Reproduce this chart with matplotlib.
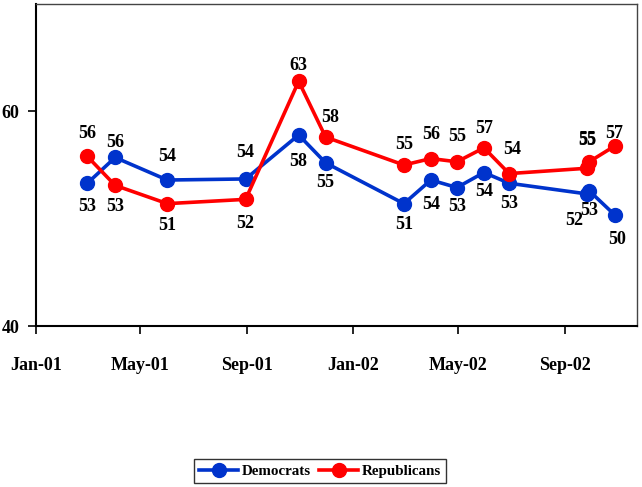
import datetime as dt
import matplotlib
matplotlib.use('Agg')
import matplotlib.pyplot as plt
import matplotlib.dates as mdates

plt.rcParams['font.family'] = ['Liberation Serif', 'DejaVu Serif']
plt.rcParams['font.weight'] = 'bold'

# survey dates
dates = [dt.date(2001, 3, 1), dt.date(2001, 4, 2), dt.date(2001, 6, 1),
         dt.date(2001, 8, 30), dt.date(2001, 10, 30), dt.date(2001, 11, 30),
         dt.date(2002, 2, 28), dt.date(2002, 3, 31), dt.date(2002, 4, 30),
         dt.date(2002, 5, 31), dt.date(2002, 6, 29), dt.date(2002, 9, 27),
         dt.date(2002, 9, 29), dt.date(2002, 10, 29)]

dem = [53.3, 55.7, 53.6, 53.7, 57.8, 55.2, 51.4, 53.6, 52.9, 54.3, 53.3, 52.3, 52.6, 50.3]
rep = [55.8, 53.1, 51.4, 51.8, 62.8, 57.6, 55.0, 55.6, 55.3, 56.6, 54.2, 54.7, 55.3, 56.8]

tick_dates = [dt.date(2001, 1, 1), dt.date(2001, 5, 1), dt.date(2001, 9, 1),
              dt.date(2002, 1, 1), dt.date(2002, 5, 1), dt.date(2002, 9, 1)]
tick_labels = ['Jan-01', 'May-01', 'Sep-01', 'Jan-02', 'May-02', 'Sep-02']

# label offsets in pixels (dx, dy)
dem_off = [(0, -23), (0, 15), (0, 24), (0, 26), (0, -27), (0, -20), (0, -21),
           (0, -24), (0, -19), (0, -19), (0, -20), (-13, -27), (0, -20), (2, -24)]
rep_off = [(0, 23), (0, -21), (0, -22), (0, -24), (0, 16), (5, 20), (0, 21),
           (0, 24), (0, 25), (0, 19), (3, 24), (-0.3, 28), (-2, 22), (-1, 12)]

blue = '#0033CC'
red = '#FF0000'

fig = plt.figure(figsize=(6.42, 4.87), dpi=100)
ax = fig.add_axes([36/642, 1-326/487, (637-36)/642, (326-4)/487])

ax.plot(dates, dem, '-o', color=blue, lw=2.6, ms=10, label='Democrats', zorder=3)
ax.plot(dates, rep, '-o', color=red, lw=2.6, ms=10, label='Republicans', zorder=4)

for d, v, (dx, dy) in zip(dates, dem, dem_off):
    ax.annotate(f'{v:.0f}', (d, v), xytext=(dx, dy), textcoords='offset pixels',
                ha='center', va='center', fontsize=13, fontweight='bold', zorder=5)
for d, v, (dx, dy) in zip(dates, rep, rep_off):
    ax.annotate(f'{v:.0f}', (d, v), xytext=(dx, dy), textcoords='offset pixels',
                ha='center', va='center', fontsize=13, fontweight='bold', zorder=5)

ax.set_ylim(40, 70)
ax.set_yticks([40, 60])
ax.set_xlim(mdates.date2num(dt.date(2001, 1, 1)), mdates.date2num(dt.date(2002, 11, 23)))
ax.set_xticks([mdates.date2num(t) for t in tick_dates])
ax.set_xticklabels(tick_labels)

ax.tick_params(axis='x', direction='out', length=6, width=1.2, pad=16, labelsize=13)
ax.tick_params(axis='y', direction='out', length=6, width=1.2, pad=6, labelsize=13)
for s in ['left', 'bottom']:
    ax.spines[s].set_linewidth(1.5)
    ax.spines[s].set_color('black')
for s in ['top', 'right']:
    ax.spines[s].set_linewidth(1.0)
    ax.spines[s].set_color('#444444')

leg = fig.legend(loc='center', bbox_to_anchor=(320/642, 1-471/487), ncol=2,
                 frameon=True, fancybox=False, edgecolor='black',
                 handlelength=2.6, handletextpad=0.2, columnspacing=0.6,
                 borderpad=0.35, prop={'weight': 'bold', 'size': 10.8})
leg.get_frame().set_linewidth(1.0)

fig.savefig('out.png', dpi=100)
